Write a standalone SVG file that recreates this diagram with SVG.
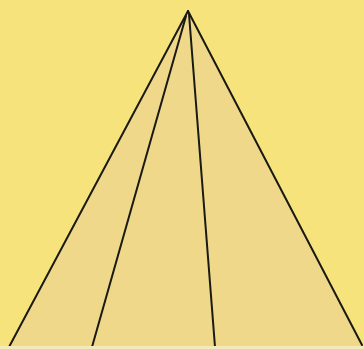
<svg xmlns="http://www.w3.org/2000/svg" width="364" height="349" viewBox="0 0 364 349">
<style>
.ln{stroke:#1a1a14;stroke-width:2;fill:none;stroke-linecap:round}
</style>
<rect width="364" height="349" fill="#f7e37c"/>
<g id="pyramid">
<polygon points="188,11 9,347 362,347" fill="#efd889"/>
</g>
<g id="connectors">
<line class="ln" x1="188" y1="11" x2="9" y2="347"/>
<line class="ln" x1="186" y1="16" x2="92" y2="347"/>
<line class="ln" x1="189" y1="14" x2="215" y2="347"/>
<line class="ln" x1="188" y1="11" x2="362" y2="345"/>
<line x1="0" y1="347.5" x2="364" y2="347.5" stroke="#f4e9b8" stroke-width="3"/>
</g>
</svg>
